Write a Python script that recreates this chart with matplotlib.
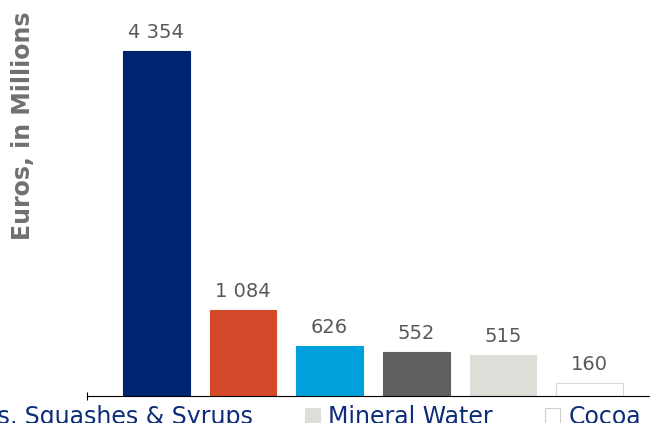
import matplotlib
matplotlib.use("Agg")
import matplotlib.pyplot as plt
from matplotlib.patches import Patch

# Market values, euros in millions
values = [4354, 1084, 626, 552, 515, 160]
bar_colors = ["#002570", "#D34A2A", "#00A0DC", "#5F6062", "#DEDED9", "#FFFFFF"]
bar_edges = ["#002570", "#D34A2A", "#00A0DC", "#5F6062", "#DEDED9", "#D9D9D9"]

legend_labels = ["Soft Drinks, Squashes & Syrups", "Mineral Water", "Cocoa"]
legend_colors = ["#DEDED9", "#DEDED9", "#FFFFFF"]
legend_edges = ["#DEDED9", "#DEDED9", "#CFCFCF"]

ylabel = "Euros, in Millions"

fig = plt.figure(figsize=(6.5, 4.23), dpi=100)
ax = fig.add_axes([87 / 650, 27.5 / 423, 572 / 650, 396 / 423])

x = list(range(len(values)))
bars = ax.bar(x, values, width=0.767, color=bar_colors, edgecolor=bar_edges,
              linewidth=0.8)

for xi, v in zip(x, values):
    ax.annotate(f"{v:,}".replace(",", " "), (xi, v), xytext=(0, 6.5),
                textcoords="offset points", ha="center", va="bottom",
                fontsize=14, color="#595959")

ax.set_xlim(-0.8, 5.8)
ax.set_ylim(0, 5000)
for side in ("left", "right", "top"):
    ax.spines[side].set_visible(False)
ax.spines["bottom"].set_color("black")
ax.spines["bottom"].set_linewidth(0.8)
ax.set_yticks([])
ax.set_xticks([-0.8])
ax.set_xticklabels([""])
ax.tick_params(axis="x", direction="inout", length=6, width=0.8, color="black")

fig.text(23 / 650, 1 - 126 / 423, ylabel, rotation=90, ha="center",
         va="center", fontsize=17, fontweight="bold", color="#707070")

handles = [Patch(facecolor=c, edgecolor=e, linewidth=0.8)
           for c, e in zip(legend_colors, legend_edges)]
leg = fig.legend(handles, legend_labels, ncol=3, loc="lower right",
                 bbox_to_anchor=(641 / 650, -6 / 423), frameon=False,
                 fontsize=17, borderpad=0, borderaxespad=0,
                 handlelength=0.65, handleheight=0.65, handletextpad=0.34,
                 columnspacing=2.2)
for t in leg.get_texts():
    t.set_color("#0D2C7A")

fig.savefig("out.png", dpi=100)
